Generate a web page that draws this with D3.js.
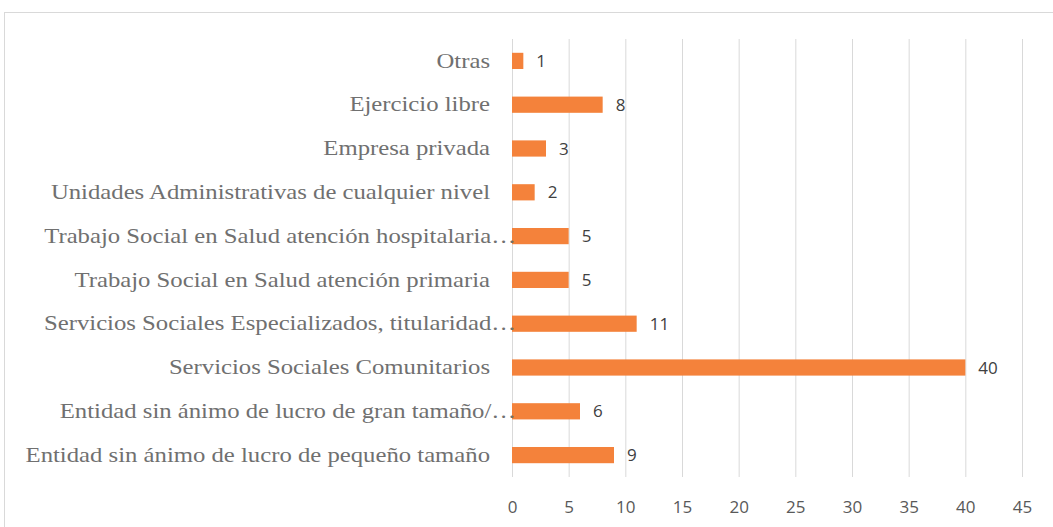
<!DOCTYPE html>
<html><head><meta charset="utf-8">
<script src="https://cdn.jsdelivr.net/npm/d3@7"></script>
<style>body{margin:0;background:#fff}</style>
</head><body>
<svg id="c" width="1053" height="527"></svg>
<script>
const categories = ["Otras","Ejercicio libre","Empresa privada","Unidades Administrativas de cualquier nivel","Trabajo Social en Salud atención hospitalaria…","Trabajo Social en Salud atención primaria","Servicios Sociales Especializados, titularidad…","Servicios Sociales Comunitarios","Entidad sin ánimo de lucro de gran tamaño/…","Entidad sin ánimo de lucro de pequeño tamaño"];
const values = [1,8,3,2,5,5,11,40,6,9];
const ticks = [0,5,10,15,20,25,30,35,40,45];

const svg = d3.select("#c");
svg.append("rect").attr("x",4.5).attr("y",12.5).attr("width",1060).attr("height",530)
  .attr("fill","none").attr("stroke","#d9d9d9");
const x = d3.scaleLinear().domain([0,45]).range([512,1022]);
const y = d3.scaleBand().domain(categories).range([39,477]).paddingInner(0.63).paddingOuter(0.315);

const g = svg.append("g");
g.selectAll("line.grid").data(ticks).join("line")
  .attr("x1",d=>x(d)+0.5).attr("x2",d=>x(d)+0.5).attr("y1",39).attr("y2",477)
  .attr("stroke","#d9d9d9").attr("stroke-width",1);

const xAxis = d3.axisBottom(x).tickValues(ticks).tickSize(0).tickPadding(0);
const ax = svg.append("g").attr("transform","translate(0,477)").call(xAxis);
ax.select(".domain").remove();
ax.selectAll("text").attr("dy",null).attr("y",36).attr("font-family","'Open Sans', Calibri, sans-serif")
  .attr("font-size",17).attr("fill","#595959");

const yAxis = d3.axisLeft(y).tickSize(0).tickPadding(0);
const ay = svg.append("g").attr("transform","translate(0,0)").call(yAxis);
ay.select(".domain").remove();
ay.selectAll(".tick text").attr("x",0).attr("dy","0.32em")
  .attr("transform",d=>`translate(${d.endsWith("…")?516:490},0) scale(1.177,1)`)
  .attr("font-family","'Liberation Serif', 'Times New Roman', serif").attr("font-size",21).attr("fill","#707070");

g.selectAll("rect.bar").data(values).join("rect")
  .attr("x",x(0)).attr("y",(d,i)=>y(categories[i]))
  .attr("width",d=>x(d)-x(0)).attr("height",y.bandwidth()).attr("fill","#f4823b");

g.selectAll("text.lbl").data(values).join("text")
  .attr("x",d=>x(d)+13).attr("y",(d,i)=>y(categories[i])+y.bandwidth()/2).attr("dy","0.36em")
  .attr("font-family","'Open Sans', Calibri, sans-serif").attr("font-size",17).attr("fill","#404040")
  .text(d=>d);
</script>
</body></html>
